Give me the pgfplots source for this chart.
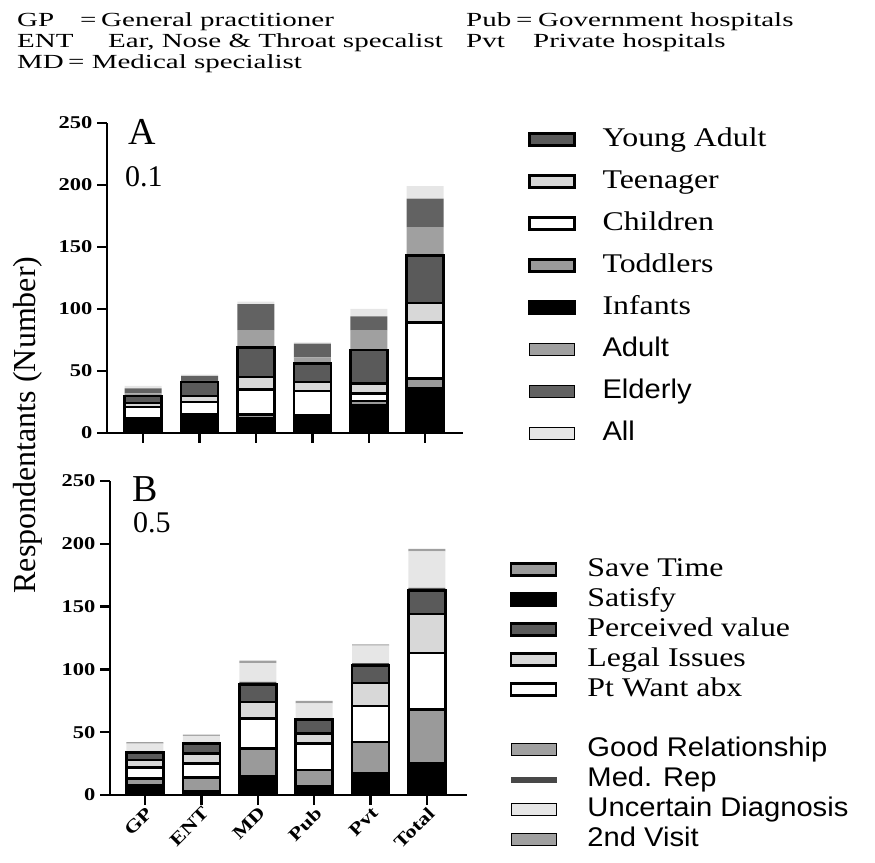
\documentclass[border=0pt]{standalone}
\usepackage{fontspec}
\setmainfont{Liberation Serif}
\newfontfamily\hdrfont[FakeStretch=1.45]{Liberation Serif}
\newfontfamily\lserif[FakeStretch=1.18]{Liberation Serif}
\newfontfamily\lsans[FakeStretch=1.08]{Liberation Sans}
\newfontfamily\tickfont[FakeStretch=1.25]{Liberation Serif}
\usepackage{pgfplots}
\pgfplotsset{compat=1.18}
\definecolor{dgray}{HTML}{5A5A5A}
\definecolor{mgray}{HTML}{A0A0A0}
\definecolor{tgray}{HTML}{9A9A9A}
\definecolor{lgray}{HTML}{D8D8D8}
\definecolor{vlgray}{HTML}{E6E6E6}
\definecolor{egray}{HTML}{626262}
\pgfplotsset{
  panel/.style={
    scale only axis,
    ybar stacked, bar width=37bp,
    ymin=0, ymax=250, ytick={0,50,...,250},
    xtick={0,1,2,3,4,5},
    axis x line=bottom, axis y line=left,
    axis line style={-, line width=2.5bp, black},
    tick align=outside, major tick length=10bp,
    tick style={line width=2.5bp, black},
    /pgf/number format/assume math mode=true,
    yticklabel style={font=\fontsize{18bp}{20bp}\tickfont\bfseries, xshift=-1bp},
    legend image code/.code={\draw[##1] (0bp,-6bp) rectangle (45bp,6bp);},
    legend cell align=left,
  },
  bordered/.style={draw=black, line width=2.5bp},
  plain/.style={draw=none},
}
\begin{document}
\begin{tikzpicture}
\useasboundingbox (0bp,0bp) rectangle (875bp,863bp);
% header
\begin{scope}[every node/.style={anchor=base west, inner sep=0pt, font=\fontsize{20bp}{23bp}\hdrfont}]
\node at (17bp,836bp) {GP};
\node at (80bp,836bp) {=};
\node at (101bp,836bp) {General practitioner};
\node at (17bp,815bp) {ENT};
\node at (108bp,815bp) {Ear, Nose \& Throat specalist};
\node at (17bp,794bp) {MD};
\node at (68bp,794bp) {= Medical specialist};
\node at (466bp,836bp) {Pub};
\node at (516bp,836bp) {=};
\node at (538bp,836bp) {Government hospitals};
\node at (466bp,815bp) {Pvt};
\node at (533bp,815bp) {Private hospitals};
\end{scope}
% panel A
\begin{axis}[panel, at={(107bp,430bp)}, anchor=south west,
  width=356bp, height=310bp, xmin=-0.64, xmax=5.67,
  xticklabels={},
  legend style={draw=none, fill=none, inner sep=0pt, outer sep=0pt,
    at={(1.1826,0.99)}, anchor=north west, row sep=15bp, column sep=27bp,
    font=\fontsize{27bp}{30bp}\lserif,
    nodes={inner sep=0pt, text height=20bp, text depth=7bp}},
]
\addlegendimage{fill=dgray, bordered}\addlegendentry{Young Adult}
\addlegendimage{fill=lgray, bordered}\addlegendentry{Teenager}
\addlegendimage{fill=white, bordered}\addlegendentry{Children}
\addlegendimage{fill=tgray, bordered}\addlegendentry{Toddlers}
\addlegendimage{fill=black, bordered}\addlegendentry{Infants}
\addlegendimage{fill=mgray, plain}\addlegendentry{\lsans Adult}
\addlegendimage{fill=egray, plain}\addlegendentry{\lsans Elderly}
\addlegendimage{fill=vlgray, plain}\addlegendentry{\lsans All}
% Infants
\addplot[fill=black, bordered] coordinates {(0,10) (1,13) (2,12) (3,12) (4,22) (5,36)};
% Toddlers
\addplot[fill=tgray, bordered] coordinates {(0,2) (1,2) (2,3) (3,2) (4,4) (5,8)};
% Children
\addplot[fill=white, bordered] coordinates {(0,9) (1,10) (2,20) (3,20) (4,6) (5,45)};
% Teenager
\addplot[fill=lgray, bordered] coordinates {(0,3) (1,5) (2,10) (3,7) (4,8) (5,16)};
% Young Adult
\addplot[fill=dgray, bordered] coordinates {(0,6) (1,11) (2,24) (3,15) (4,27) (5,38)};
% Adult
\addplot[fill=mgray, plain] coordinates {(0,2) (1,1) (2,14) (3,5) (4,16) (5,23)};
% Elderly
\addplot[fill=egray, plain] coordinates {(0,4) (1,4) (2,21) (3,11) (4,11) (5,23)};
% All
\addplot[fill=vlgray, plain] coordinates {(0,2) (1,1) (2,2) (3,1) (4,6) (5,10)};
\end{axis}
% panel B
\begin{axis}[panel, at={(110bp,68bp)}, anchor=south west,
  width=357bp, height=314bp, xmin=-0.62, xmax=5.71,
  xticklabels={GP,ENT,MD,Pub,Pvt,Total},
  xticklabel style={font=\fontsize{18bp}{20bp}\tickfont\bfseries, rotate=45, anchor=north east, inner sep=0.5bp},
  legend style={draw=none, fill=none, inner sep=0pt, outer sep=0pt,
    at={(1.1204,0.761)}, anchor=north west, row sep=3bp, column sep=30bp,
    font=\fontsize{27bp}{30bp}\lserif,
    nodes={inner sep=0pt, text height=20bp, text depth=7bp}},
]
\addlegendimage{fill=tgray, bordered}\addlegendentry{Save Time}
\addlegendimage{fill=black, bordered}\addlegendentry{Satisfy}
\addlegendimage{fill=dgray, bordered}\addlegendentry{Perceived value}
\addlegendimage{fill=lgray, bordered}\addlegendentry{Legal Issues}
\addlegendimage{fill=white, bordered}\addlegendentry{Pt Want abx}
\addlegendimage{empty legend}\addlegendentry{}
\addlegendimage{fill=mgray, plain}\addlegendentry{\lsans Good Relationship}
\addlegendimage{legend image code/.code={\fill[dgray!80!black] (0bp,-2.5bp) rectangle (45bp,2.5bp);}}\addlegendentry{\lsans Med. Rep}
\addlegendimage{fill=vlgray, plain}\addlegendentry{\lsans Uncertain Diagnosis}
\addlegendimage{fill=mgray, plain}\addlegendentry{\lsans 2nd Visit}
% Satisfy
\addplot[fill=black, bordered] coordinates {(0,8) (1,3) (2,15) (3,7) (4,17) (5,25)};
% Save Time
\addplot[fill=tgray, bordered] coordinates {(0,5) (1,11) (2,22) (3,13) (4,25) (5,43)};
% Pt Want abx
\addplot[fill=white, bordered] coordinates {(0,9) (1,11) (2,24) (3,21) (4,29) (5,45)};
% Legal Issues
\addplot[fill=lgray, bordered] coordinates {(0,6) (1,8) (2,13) (3,8) (4,18) (5,31)};
% Perceived value
\addplot[fill=dgray, bordered] coordinates {(0,6) (1,8) (2,14) (3,11) (4,14) (5,19)};
% Good Relationship
\addplot[fill=mgray, plain] coordinates {(0,0) (1,0) (2,0) (3,0) (4,0) (5,0)};
% Med. Rep
\addplot[fill=dgray, plain] coordinates {(0,1) (1,1) (2,2) (3,1) (4,2) (5,2)};
% Uncertain Diagnosis
\addplot[fill=vlgray, plain] coordinates {(0,6) (1,5) (2,15) (3,12) (4,14) (5,29)};
% 2nd Visit
\addplot[fill=mgray, plain] coordinates {(0,1) (1,1) (2,2) (3,2) (4,1) (5,2)};
\end{axis}
% y label and panel tags
\node[rotate=90, font=\fontsize{32bp}{34bp}\selectfont, inner sep=0pt] at (28bp,438bp) {Respondentants (Number)};
\node[anchor=base west, inner sep=0pt, font=\fontsize{38bp}{40bp}\selectfont] at (128bp,718bp) {A};
\node[anchor=base west, inner sep=0pt, font=\fontsize{30bp}{32bp}\selectfont] at (125bp,676bp) {0.1};
\node[anchor=base west, inner sep=0pt, font=\fontsize{38bp}{40bp}\selectfont] at (132bp,361bp) {B};
\node[anchor=base west, inner sep=0pt, font=\fontsize{30bp}{32bp}\selectfont] at (133bp,330bp) {0.5};
\end{tikzpicture}
\end{document}
